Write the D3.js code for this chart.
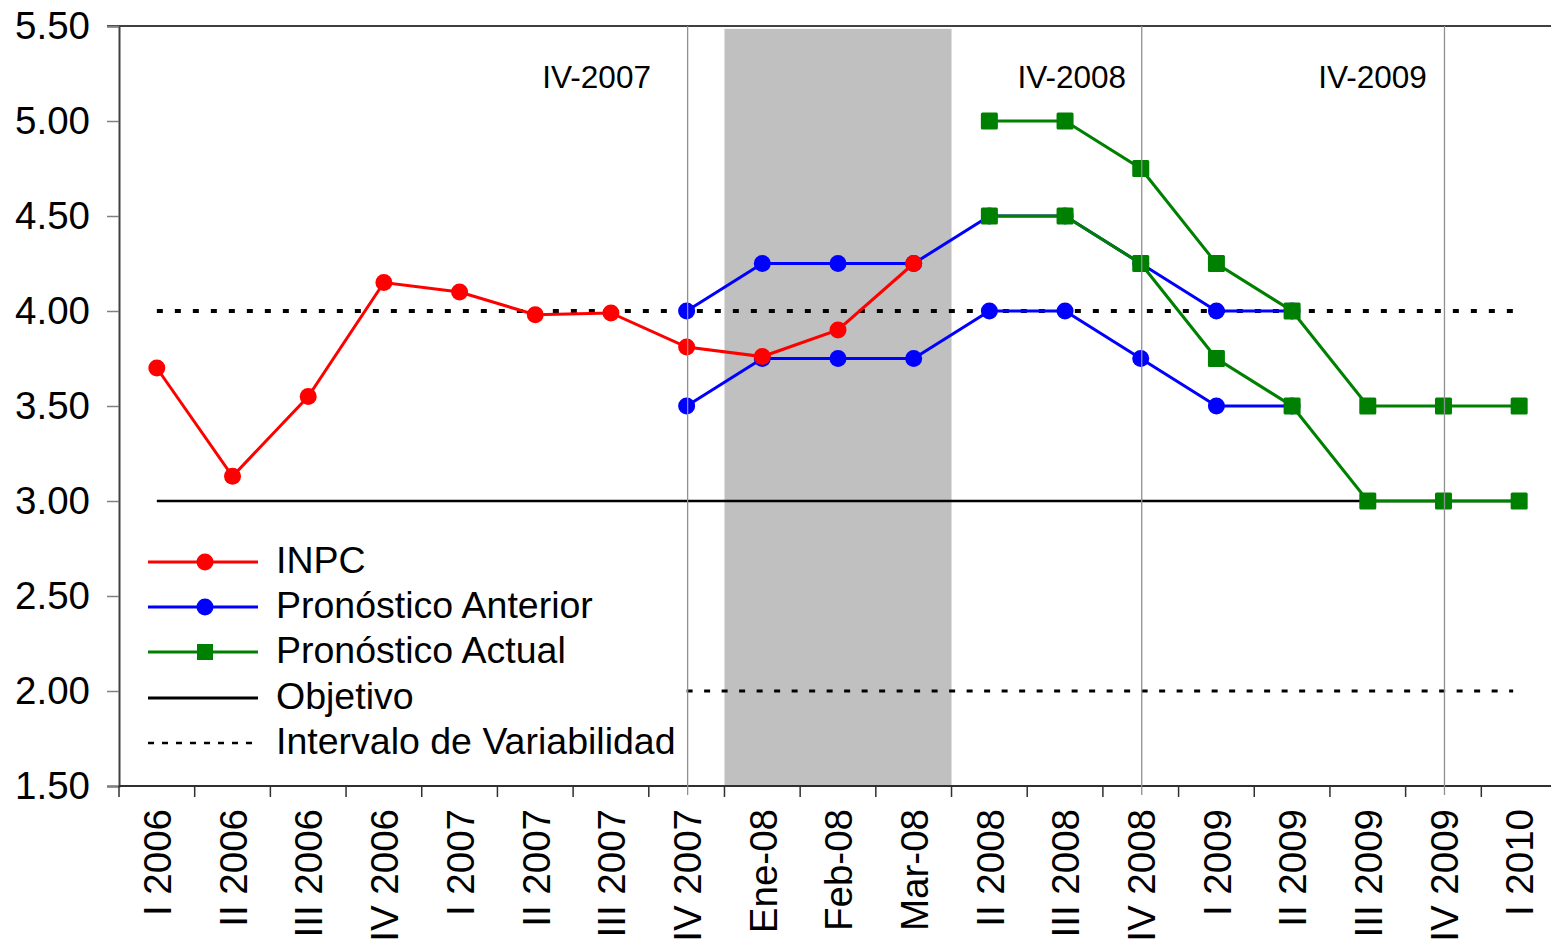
<!DOCTYPE html>
<html>
<head>
<meta charset="utf-8">
<script src="https://cdn.jsdelivr.net/npm/d3@7"></script>
<style>
  html, body { margin: 0; padding: 0; background: #fff; }
  svg { display: block; font-family: "Liberation Sans", Arial, sans-serif; }
</style>
</head>
<body>
<svg id="chart" width="1551" height="945"></svg>
<script>
// Periods on the horizontal axis
const categories = ["I 2006", "II 2006", "III 2006", "IV 2006", "I 2007", "II 2007", "III 2007",
  "IV 2007", "Ene-08", "Feb-08", "Mar-08", "II 2008", "III 2008", "IV 2008", "I 2009", "II 2009",
  "III 2009", "IV 2009", "I 2010"];

// Observed inflation (INPC)
const inpcCats = ["I 2006", "II 2006", "III 2006", "IV 2006", "I 2007", "II 2007", "III 2007",
  "IV 2007", "Ene-08", "Feb-08", "Mar-08"];
const inpcValues = [3.70, 3.13, 3.55, 4.15, 4.10, 3.98, 3.99, 3.81, 3.76, 3.90, 4.25];

// Previous forecast (upper / lower bounds)
const antCats = ["IV 2007", "Ene-08", "Feb-08", "Mar-08", "II 2008", "III 2008", "IV 2008", "I 2009", "II 2009"];
const antUpper = [4.00, 4.25, 4.25, 4.25, 4.50, 4.50, 4.25, 4.00, 4.00];
const antLower = [3.50, 3.75, 3.75, 3.75, 4.00, 4.00, 3.75, 3.50, 3.50];

// Current forecast (upper / lower bounds)
const actCats = ["II 2008", "III 2008", "IV 2008", "I 2009", "II 2009", "III 2009", "IV 2009", "I 2010"];
const actUpper = [5.00, 5.00, 4.75, 4.25, 4.00, 3.50, 3.50, 3.50];
const actLower = [4.50, 4.50, 4.25, 3.75, 3.50, 3.00, 3.00, 3.00];

// Target and variability interval
const target = 3.00;
const upperBand = 4.00;
const lowerBand = 2.00;

const yTicks = [1.50, 2.00, 2.50, 3.00, 3.50, 4.00, 4.50, 5.00, 5.50];
const markerLines = ["IV 2007", "IV 2008", "IV 2009"];
const markerLabels = ["IV-2007", "IV-2008", "IV-2009"];
const shaded = ["Ene-08", "Mar-08"];

const legendItems = ["INPC", "Pronóstico Anterior", "Pronóstico Actual", "Objetivo", "Intervalo de Variabilidad"];

const svg = d3.select("#chart");
const plotL = 119, plotR = 1557, plotT = 26, plotB = 786;
const axisFont = 38.5;

const x = d3.scaleBand().domain(categories).range([plotL, plotR]).paddingInner(0).paddingOuter(0);
const cx = c => x(c) + x.bandwidth() / 2;
const y = d3.scaleLinear().domain([1.5, 5.5]).range([plotB, plotT]);

const RED = "#ff0000", BLUE = "#0000ff", GREEN = "#008000";

// shaded monthly region
svg.append("rect")
  .attr("x", x(shaded[0]))
  .attr("y", y(5.485))
  .attr("width", x(shaded[1]) + x.bandwidth() - x(shaded[0]))
  .attr("height", y(1.5) - y(5.485))
  .attr("fill", "#c0c0c0");

// top border
svg.append("line").attr("x1", plotL - 12).attr("x2", 1551).attr("y1", plotT).attr("y2", plotT)
  .attr("stroke", "#000").attr("stroke-width", 1.5);

// labels beside the year-end lines
const labelShift = [-90, -69, -71];
svg.selectAll(".mlabel").data(markerLabels).enter().append("text")
  .attr("x", (d, i) => cx(markerLines[i]) + labelShift[i])
  .attr("y", 88)
  .attr("text-anchor", "middle")
  .attr("font-size", 31.5)
  .text(d => d);

// Y axis
const yAxis = d3.axisLeft(y).tickValues(yTicks).tickFormat(d3.format(".2f")).tickSize(12).tickPadding(17);
const gy = svg.append("g").attr("transform", `translate(${plotL},0)`).call(yAxis);
gy.select(".domain").attr("stroke", "#404040").attr("stroke-width", 2);
gy.selectAll(".tick line").attr("stroke", "#808080").attr("stroke-width", 1.5);
gy.selectAll(".tick text").attr("font-size", axisFont).attr("fill", "#000")
  .attr("font-family", "Liberation Sans, Arial, sans-serif");

// X axis with ticks on band boundaries
const gx = svg.append("g").attr("transform", `translate(0,${plotB})`);
gx.append("line").attr("x1", plotL).attr("x2", plotR).attr("stroke", "#303030").attr("stroke-width", 2);
const bounds = categories.map(c => x(c)).concat([plotR]);
gx.selectAll(".bt").data(bounds).enter().append("line")
  .attr("x1", d => d).attr("x2", d => d).attr("y1", 0).attr("y2", 11)
  .attr("stroke", "#303030").attr("stroke-width", 1.5);
gx.selectAll(".xl").data(categories).enter().append("text")
  .attr("transform", d => `translate(${cx(d) + 0.37 * axisFont},${23}) rotate(-90)`)
  .attr("text-anchor", "end")
  .attr("font-size", axisFont)
  .text(d => d);

// target and variability interval lines
const first = categories[0], last = categories[categories.length - 1];
svg.append("line").attr("x1", cx(first)).attr("x2", cx(last))
  .attr("y1", y(target)).attr("y2", y(target)).attr("stroke", "#000").attr("stroke-width", 2.5);
svg.append("line").attr("x1", cx(first)).attr("x2", cx(last))
  .attr("y1", y(upperBand)).attr("y2", y(upperBand))
  .attr("stroke", "#000").attr("stroke-width", 4).attr("stroke-dasharray", "6,12");
svg.append("line").attr("x1", cx("IV 2007")).attr("x2", cx(last) - 6)
  .attr("y1", y(lowerBand)).attr("y2", y(lowerBand))
  .attr("stroke", "#000").attr("stroke-width", 3).attr("stroke-dasharray", "6,11.5");

const line = d3.line().x(d => cx(d[0])).y(d => y(d[1]));

function drawSeries(cats, vals, color, shape) {
  const pts = cats.map((c, i) => [c, vals[i]]);
  svg.append("path").datum(pts).attr("d", line)
    .attr("fill", "none").attr("stroke", color).attr("stroke-width", 3);
  if (shape === "circle") {
    svg.selectAll(null).data(pts).enter().append("circle")
      .attr("cx", d => cx(d[0])).attr("cy", d => y(d[1])).attr("r", 8.5)
      .attr("fill", color);
  } else {
    svg.selectAll(null).data(pts).enter().append("rect")
      .attr("x", d => cx(d[0]) - 8.5).attr("y", d => y(d[1]) - 8.5)
      .attr("width", 17).attr("height", 17).attr("rx", 1.5).attr("fill", color);
  }
}

drawSeries(antCats, antUpper, BLUE, "circle");
drawSeries(antCats, antLower, BLUE, "circle");
drawSeries(inpcCats, inpcValues, RED, "circle");
drawSeries(actCats, actUpper, GREEN, "square");
drawSeries(actCats, actLower, GREEN, "square");

// vertical reference lines at year-end quarters (drawn above the series)
svg.selectAll(".vline").data(markerLines).enter().append("line")
  .attr("x1", d => cx(d) + 1).attr("x2", d => cx(d) + 1)
  .attr("y1", plotT).attr("y2", plotB + 9)
  .attr("stroke", "#909090").attr("stroke-width", 1.3);

// legend
const lg = svg.append("g");
const rowY = [562, 607, 652, 698, 743];
const styles = [
  { color: RED, marker: "circle" },
  { color: BLUE, marker: "circle" },
  { color: GREEN, marker: "square" },
  { color: "#000", marker: null },
  { color: "#000", marker: null, dash: true }
];
legendItems.forEach((name, i) => {
  const s = styles[i];
  const yy = rowY[i];
  const l = lg.append("line").attr("x1", 148).attr("x2", 258).attr("y1", yy).attr("y2", yy)
    .attr("stroke", s.color).attr("stroke-width", s.dash ? 2.5 : 3);
  if (s.dash) l.attr("stroke-dasharray", "6,8");
  if (s.marker === "circle") {
    lg.append("circle").attr("cx", 205).attr("cy", yy).attr("r", 8.5).attr("fill", s.color);
  } else if (s.marker === "square") {
    lg.append("rect").attr("x", 197).attr("y", yy - 8).attr("width", 16).attr("height", 16).attr("fill", s.color);
  }
  lg.append("text").attr("x", 276).attr("y", yy + 11).attr("font-size", 37.5).text(name);
});
</script>
</body>
</html>
